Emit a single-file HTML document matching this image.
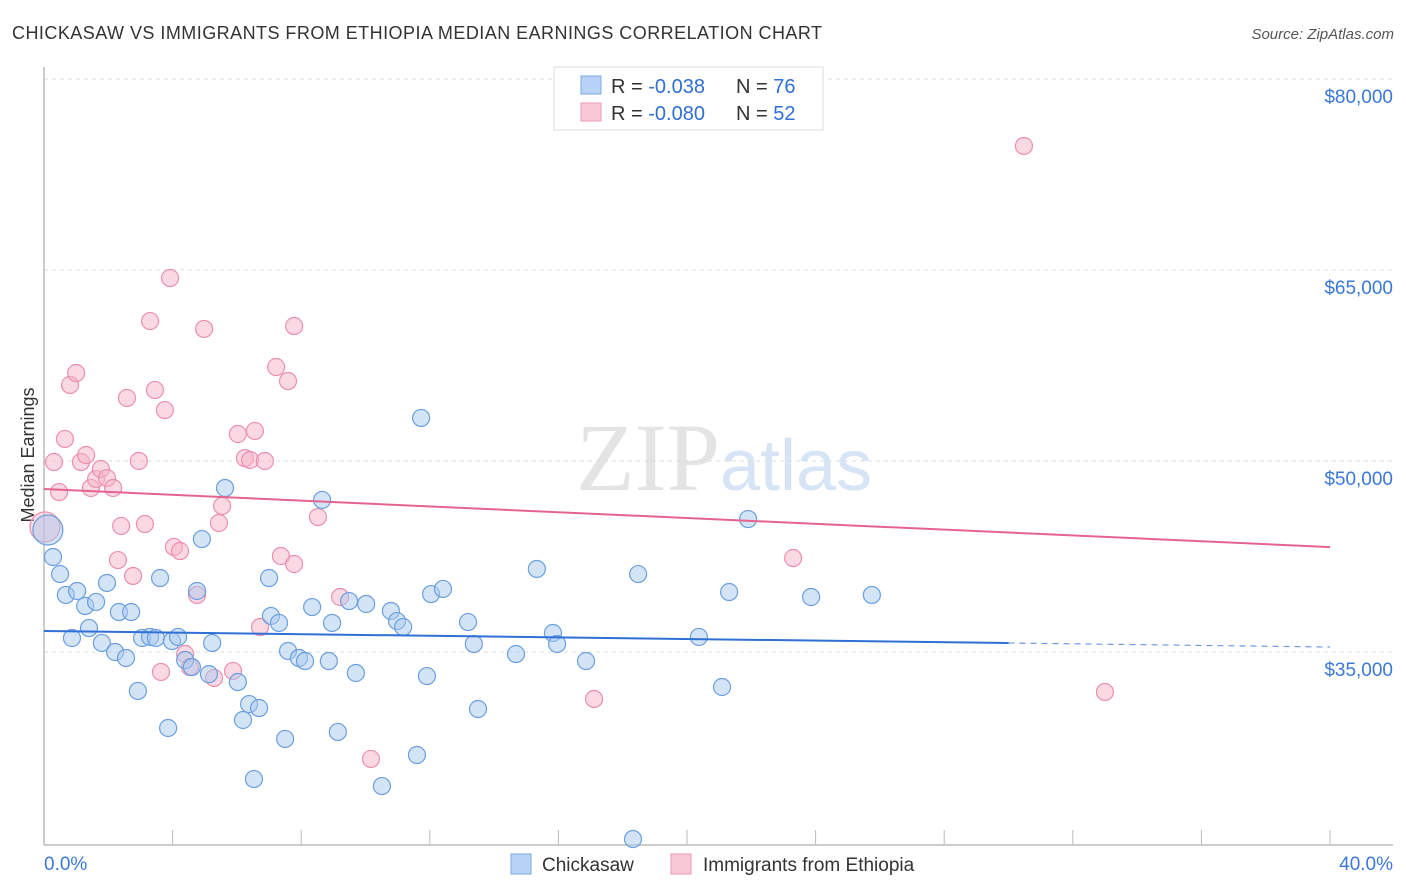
<!DOCTYPE html>
<html><head><meta charset="utf-8"><style>
body{margin:0;background:#fff;font-family:"Liberation Sans",sans-serif;}
#wrap{position:relative;width:1406px;height:892px;overflow:hidden;}
</style></head><body>
<div id="wrap">
<svg id="chart" width="1406" height="892">
<text x="12" y="39" font-size="18" fill="#333" textLength="810">CHICKASAW VS IMMIGRANTS FROM ETHIOPIA MEDIAN EARNINGS CORRELATION CHART</text>
<text x="1394" y="39" font-size="15" fill="#555" font-style="italic" text-anchor="end">Source: ZipAtlas.com</text>
<text x="720" y="490" font-size="96" fill="#e4e4e4" text-anchor="end" font-family="Liberation Serif,serif">ZIP</text>
<text x="720" y="490" font-size="72" fill="#d6e4f5">atlas</text>
<text transform="translate(34,455) rotate(-90)" font-size="18" fill="#333" text-anchor="middle">Median Earnings</text>
<g id="grid"></g><g id="marks"></g>
<g>
<rect x="554" y="67" width="269" height="63" fill="#fff" stroke="#ddd"/>
<rect x="581" y="76" width="20" height="18" fill="#b8d3f5" stroke="#7aa8e3"/>
<rect x="581" y="103" width="20" height="18" fill="#f9c8d7" stroke="#ee9ab5"/>
<text x="611" y="93" font-size="20" fill="#333">R = <tspan fill="#2f6fd6">-0.038</tspan><tspan x="736">N = </tspan><tspan fill="#2f6fd6">76</tspan></text>
<text x="611" y="120" font-size="20" fill="#333">R = <tspan fill="#2f6fd6">-0.080</tspan><tspan x="736">N = </tspan><tspan fill="#2f6fd6">52</tspan></text>
</g>
<rect x="511" y="854" width="20" height="20" fill="#b8d3f5" stroke="#7aa8e3"/>
<text x="542" y="871" font-size="19" fill="#333">Chickasaw</text>
<rect x="671" y="854" width="20" height="20" fill="#f9c8d7" stroke="#ee9ab5"/>
<text x="703" y="871" font-size="19" fill="#333">Immigrants from Ethiopia</text>
</svg>
</div>
<script>
const yTicks=[80000,65000,50000,35000];
const yTickLabels=["$80,000","$65,000","$50,000","$35,000"];
const xTickLabels=["0.0%","40.0%"];
const blueX=[0.12,0.28,0.5,0.68,0.87,1.03,1.28,1.4,1.62,1.8,1.96,2.21,2.33,2.55,2.71,2.92,3.05,3.3,3.48,3.61,3.86,3.98,4.17,4.39,4.6,4.76,4.91,5.13,5.23,5.63,6.03,6.19,6.38,6.53,6.69,7.0,7.06,7.31,7.5,7.59,7.93,8.12,8.34,8.65,8.86,8.96,9.14,9.49,9.7,10.02,10.51,10.79,10.98,11.17,11.6,11.73,11.91,12.04,12.41,13.19,13.37,13.5,14.68,15.33,15.83,15.96,16.86,18.32,18.48,20.37,21.09,21.31,21.9,23.86,25.75];
const blueY=[44.58,42.46,41.12,39.48,36.1,39.79,38.61,36.88,38.93,35.71,40.42,35.0,38.14,34.53,38.14,31.94,36.1,36.18,36.1,40.81,29.03,35.86,36.18,34.37,33.82,39.79,43.87,33.26,35.71,47.88,32.64,29.66,30.91,25.02,30.6,40.81,37.83,37.28,28.17,35.08,34.53,34.29,38.53,46.94,34.29,37.28,28.72,39.0,33.35,38.77,24.47,38.22,37.43,36.96,26.91,53.38,33.11,39.55,39.95,37.35,35.63,30.52,34.84,41.52,36.49,35.63,34.29,20.31,41.12,36.18,32.25,39.71,45.44,39.32,39.48];
const pinkX=[0.03,0.31,0.47,0.65,0.81,1.0,1.15,1.31,1.46,1.62,1.77,1.96,2.15,2.4,2.3,2.58,2.77,2.95,3.14,3.3,3.45,3.64,3.76,3.92,4.04,4.23,4.39,4.54,4.76,4.98,5.29,5.44,5.54,5.88,6.03,6.25,6.41,6.56,6.72,6.87,7.22,7.37,7.59,7.78,7.78,8.52,9.21,10.17,17.11,23.3,30.48,33.0];
const pinkY=[44.82,49.92,47.56,51.73,55.97,56.91,49.92,50.47,47.88,48.59,49.37,48.66,47.88,44.9,42.22,54.95,40.97,50.0,45.05,60.99,55.58,33.43,54.0,64.37,43.25,42.93,34.84,33.82,39.48,60.37,32.96,45.13,46.47,33.51,52.12,50.23,50.08,52.36,36.96,50.0,57.38,42.54,56.28,41.91,60.6,45.6,39.32,26.6,31.31,42.38,74.74,31.86];
const blueTrend=[36.65,35.39];
const pinkTrend=[47.8,43.24];
const NS='http://www.w3.org/2000/svg';
const X=v=>44+v*(1286/40);
const Y=k=>79+(80-k)*12.733;
function mk(t,a,p){const e=document.createElementNS(NS,t);for(const k in a)e.setAttribute(k,a[k]);p.appendChild(e);return e;}
const g=document.getElementById('grid'),m=document.getElementById('marks');
yTicks.forEach((v,i)=>{
 const l=mk('line',{x1:44,x2:1393,y1:Y(v/1000),y2:Y(v/1000),stroke:'#ddd','stroke-dasharray':'4,4'},g);
 
 
 const t=mk('text',{x:1393,y:Y(v/1000)+24,'font-size':19,fill:'#3b78d8','text-anchor':'end'},g);
 t.textContent=yTickLabels[i];
 
 
});
const ya=mk('line',{x1:44,x2:44,y1:67,y2:845,stroke:'#bbb','stroke-width':1.5},g);


const xa=mk('line',{x1:44,x2:1393,y1:845,y2:845,stroke:'#bbb','stroke-width':1.5},g);


for(let i=0;i<=10;i++){
 const tk=mk('line',{x1:X(i*4),x2:X(i*4),y1:830,y2:845,stroke:'#bbb'},g);
 
 
}
[[0,'start',44],[40,'end',1393]].forEach((d,i)=>{
 const t=mk('text',{x:d[2],y:870,'font-size':19,fill:'#3b78d8','text-anchor':d[1]},g);
 t.textContent=xTickLabels[i];
 
 
});
function pts(xs,ys,fill,stroke,name){
 xs.forEach((x,i)=>{
  const c=mk('circle',{cx:X(x),cy:Y(ys[i]),r:i==0?15:8.5,fill:fill,'fill-opacity':0.5,stroke:stroke,'stroke-width':1.2},m);
  
  
 });
}
pts(pinkX,pinkY,'#f5b3c8','#ec8fae','ethiopia-point');
pts(blueX,blueY,'#a9c9f0','#6a9fe0','chickasaw-point');
const bAt=x=>blueTrend[0]+(blueTrend[1]-blueTrend[0])*x/40;
const b1=mk('line',{x1:X(0),y1:Y(bAt(0)),x2:X(30),y2:Y(bAt(30)),stroke:'#2f6fd6','stroke-width':2},m);


const b2=mk('line',{x1:X(30),y1:Y(bAt(30)),x2:X(40),y2:Y(bAt(40)),stroke:'#2f6fd6','stroke-width':1.2,'stroke-dasharray':'6,5','stroke-opacity':0.7},m);


const p1=mk('line',{x1:X(0),y1:Y(pinkTrend[0]),x2:X(40),y2:Y(pinkTrend[1]),stroke:'#e5648f','stroke-width':2},m);


</script>
</body></html>
